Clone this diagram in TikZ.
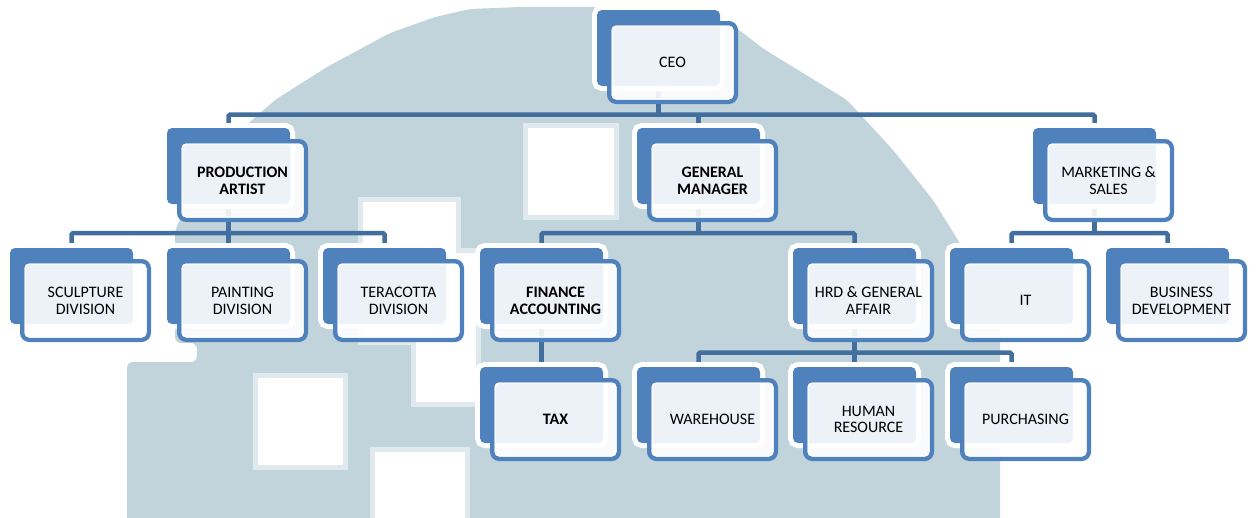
\documentclass[tikz,border=0pt]{standalone}
\usepackage{fontspec}
\setmainfont{Carlito}
\definecolor{boxblue}{HTML}{4F81BD}
\definecolor{connblue}{HTML}{436F9F}
\definecolor{wmcol}{RGB}{194,212,219}
\definecolor{wmedge}{RGB}{224,233,237}
\pgfdeclarelayer{wm}
\pgfdeclarelayer{bg}
\pgfsetlayers{wm,bg,main}
\tikzset{
  backbox/.style={minimum width=123pt, minimum height=76pt, inner sep=0pt,
    fill=boxblue, rounded corners=5pt, preaction={draw=white, line width=10pt}},
  frontbox/.style={minimum width=126.5pt, minimum height=78.5pt, inner sep=0pt,
    draw=boxblue, line width=4.5pt, fill=white, fill opacity=0.9, rounded corners=7pt},
  innerbox/.style={minimum width=120.8pt, minimum height=72.8pt, inner sep=0pt,
    draw=white, line width=1.2pt, rounded corners=4pt, align=center,
    font=\fontsize{16}{16.8}\selectfont, text=black},
  boldtext/.style={font=\fontsize{16}{16.8}\selectfont\bfseries},
  conn/.style={draw=connblue, line width=4.5pt, rounded corners=1.5pt},
  wmwhite/.style={fill=white, draw=wmedge, line width=5pt}
}
\newcommand\orgbox[5]{%
  \node[backbox] (#1-b) at ({#2+61.5},{#3+38}) {};
  \node[frontbox] (#1-f) at ({#2+75.5},{#3+52.5}) {};
  \node[innerbox,#4] (#1) at ({#2+75.5},{#3+52.5}) {#5};
}
\begin{document}
\begin{tikzpicture}[x=1pt,y=-1pt]
\useasboundingbox (0,0) rectangle (1257,517);

% watermark
\begin{pgfonlayer}{wm}
\fill[wmcol, rounded corners=6pt] (127,540) -- (127,362) -- (197,362) -- (197,343) -- (175,343) -- (175,230)
  -- (200,178) -- (235,135) -- (275,100) -- (327,67) -- (390,33) -- (435,17) -- (470,9) -- (520,7)
  -- (700,7) -- (742,32) -- (762,48) -- (847,100) -- (893,150) -- (933,200) -- (958,240) -- (1000,320)
  -- (1000,540) -- cycle;
\path[wmwhite] (525,125) rectangle (616,217);
\path[wmwhite] (360,199) -- (458,199) -- (458,250) -- (478,250) -- (478,404) -- (413,404) -- (413,342) -- (360,342) -- cycle;
\path[wmwhite] (255,375) rectangle (345,467);
\path[wmwhite] (372,449) rectangle (467,530);
\end{pgfonlayer}

% boxes
\orgbox{ceo}{597}{10}{}{CEO}
\orgbox{pa}{167}{128}{boldtext}{PRODUCTION\\ARTIST}
\orgbox{gm}{637}{128}{boldtext}{GENERAL\\MANAGER}
\orgbox{ms}{1033}{128}{}{MARKETING \&\\SALES}
\orgbox{scu}{10}{248}{}{SCULPTURE\\DIVISION}
\orgbox{pai}{167}{248}{}{PAINTING\\DIVISION}
\orgbox{ter}{323}{248}{}{TERACOTTA\\DIVISION}
\orgbox{fin}{480}{248}{boldtext}{FINANCE\\ACCOUNTING}
\orgbox{hrd}{793}{248}{}{HRD \& GENERAL\\AFFAIR}
\orgbox{it}{950}{248}{}{IT}
\orgbox{bd}{1106}{248}{}{BUSINESS\\DEVELOPMENT}
\orgbox{tax}{480}{367}{boldtext}{TAX}
\orgbox{wh}{637}{367}{}{WAREHOUSE}
\orgbox{hr}{793}{367}{}{HUMAN\\RESOURCE}
\orgbox{pur}{950}{367}{}{PURCHASING}

\coordinate (bus1) at (0,114.5);
\coordinate (bus2) at (0,233);
\coordinate (bus3) at (0,352.5);

% connectors
\begin{pgfonlayer}{bg}
\draw[conn] (pa-b.north) -- (pa-b.north |- bus1) -- (ms-b.north |- bus1) -- (ms-b.north);
\draw[conn] (ceo-b.center) -- (ceo-b.center |- bus1);
\draw[conn] (gm-b.north |- bus1) -- (gm-b.north);

\draw[conn] (scu-b.north) -- (scu-b.north |- bus2) -- (ter-b.north |- bus2) -- (ter-b.north);
\draw[conn] (pa-b.center) -- (pai-b.north);

\draw[conn] (fin-b.north) -- (fin-b.north |- bus2) -- (hrd-b.north |- bus2) -- (hrd-b.north);
\draw[conn] (gm-b.center) -- (gm-b.center |- bus2);

\draw[conn] (it-b.north) -- (it-b.north |- bus2) -- (bd-b.north |- bus2) -- (bd-b.north);
\draw[conn] (ms-b.center) -- (ms-b.center |- bus2);

\draw[conn] (fin-b.center) -- (tax-b.north);

\draw[conn] (wh-b.north) -- (wh-b.north |- bus3) -- (pur-b.north |- bus3) -- (pur-b.north);
\draw[conn] (hrd-b.center) -- (hr-b.north);
\end{pgfonlayer}
\end{tikzpicture}
\end{document}
